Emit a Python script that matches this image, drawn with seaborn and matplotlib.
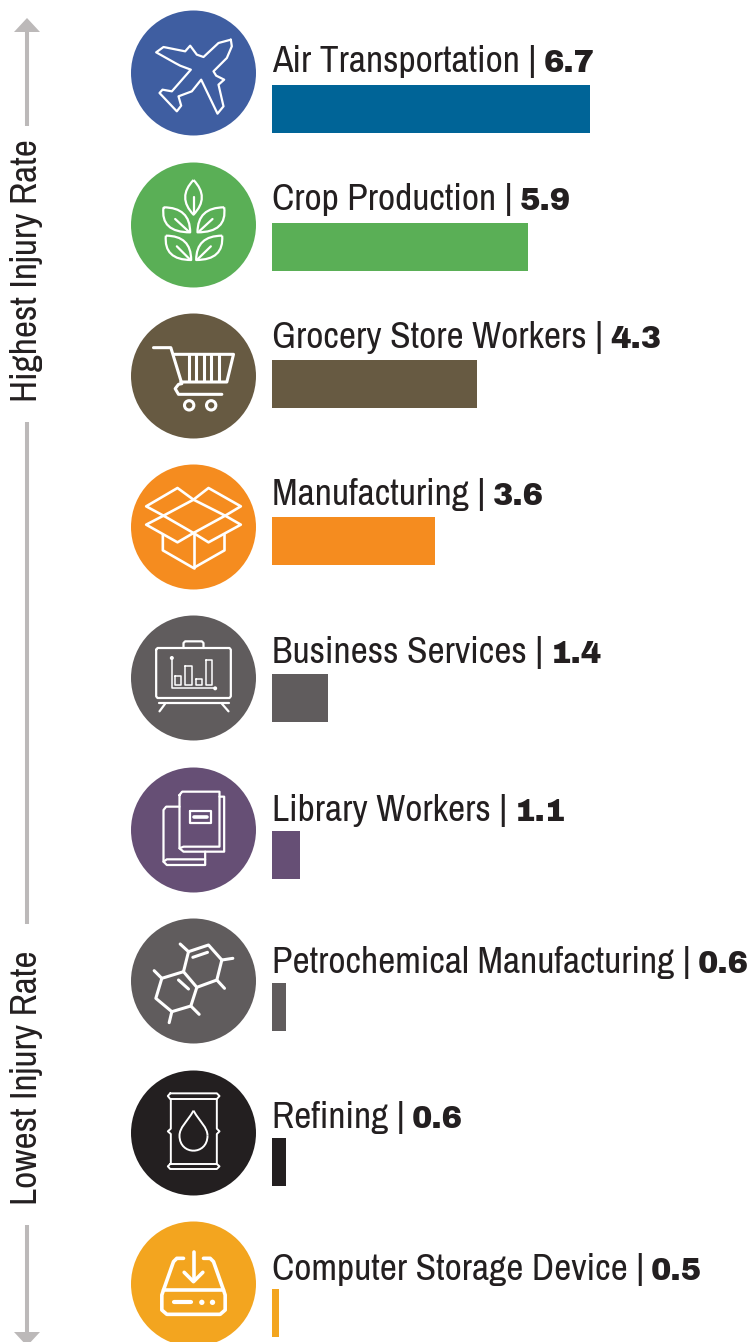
#!/usr/bin/env python
import numpy as np
import pandas as pd
import matplotlib
matplotlib.use("Agg")
import matplotlib.pyplot as plt
import seaborn as sns
from matplotlib import font_manager
from matplotlib.patches import Circle, PathPatch
from matplotlib.path import Path

categories = ["Air Transportation", "Crop Production", "Grocery Store Workers", "Manufacturing",
              "Business Services", "Library Workers", "Petrochemical Manufacturing", "Refining",
              "Computer Storage Device"]
rate_labels = ["6.7", "5.9", "4.3", "3.6", "1.4", "1.1", "0.6", "0.6", "0.5"]
# the printed bars are not proportional to the printed rates, so lengths are read off separately
bar_lengths = [6.7, 5.39, 4.32, 3.43, 1.18, 0.59, 0.29, 0.29, 0.15]
bar_colors = ["#006497", "#5aaf56", "#675a42", "#f58c1f", "#605c5d", "#664f75", "#605c5d", "#231f20", "#f3a51f"]
circle_colors = ["#3f5ea1", "#5aaf56", "#675a42", "#f58c1f", "#605c5d", "#664f75", "#605c5d", "#231f20", "#f3a51f"]

# layout, in picture pixels
bar_centers = [109, 247, 384, 541, 698, 855, 1007, 1162, 1313]
circle_centers = [73, 225, 376, 527, 678, 830, 981, 1133, 1284]
baselines = [72, 210, 348, 505, 663, 821, 973, 1128, 1280]
W, H = 751, 1342
BAR_LEFT = 272
BAR_SCALE = 318 / 6.7
CIRCLE_X = 193.5
TEXT = "#231f20"
GREY = "#bcb9b9"
LW = 1.6

# narrow face if there is one, otherwise a smaller Roboto so nothing runs off the edge
installed = {f.name for f in font_manager.fontManager.ttflist}
if "Archivo Narrow" in installed:
    LABEL_FONT, LABEL_SIZE = "Archivo Narrow", 27
else:
    LABEL_FONT, LABEL_SIZE = "Roboto", 22
VALUE_FONT = "Archivo Black" if "Archivo Black" in installed else "DejaVu Sans"
VALUE_SIZE = 22

fig = plt.figure(figsize=(W / 100, H / 100), dpi=100)
ax = fig.add_axes([0, 0, 1, 1])
ax.set_xlim(0, W)
ax.set_ylim(H, 0)
ax.axis("off")

# bars
df = pd.DataFrame({"category": categories, "length": bar_lengths, "pos": bar_centers})
ax_bar = fig.add_axes([BAR_LEFT / W, 0, (W - BAR_LEFT) / W, 1])
gaps = np.diff(sorted(bar_centers))
sns.barplot(data=df, x="length", y="pos", hue="category", palette=bar_colors, orient="y",
            native_scale=True, dodge=False, width=48 / gaps.min(), saturation=1,
            linewidth=0, legend=False, ax=ax_bar)
ax_bar.set_xlim(0, (W - BAR_LEFT) / BAR_SCALE)
ax_bar.set_ylim(H, 0)
ax_bar.axis("off")
ax_bar.patch.set_alpha(0)


def lines(cy, origin, polys, lw=LW):
    # polys come in 3x zoom coordinates relative to the icon origin
    ox, oy = origin
    for p in polys:
        p = np.array(p, dtype=float)
        ax.plot(CIRCLE_X + (p[:, 0] - ox) / 3, cy + (p[:, 1] - oy) / 3, color="white", lw=lw,
                solid_capstyle="round", solid_joinstyle="round", zorder=3)


def ring(cy, origin, x, y, r, lw=LW):
    ox, oy = origin
    ax.add_patch(Circle((CIRCLE_X + (x - ox) / 3, cy + (y - oy) / 3), r / 3, fill=False,
                        ec="white", lw=lw, zorder=3))


def dot(cy, origin, x, y, r):
    ox, oy = origin
    ax.add_patch(Circle((CIRCLE_X + (x - ox) / 3, cy + (y - oy) / 3), r / 3, fc="white", ec="none", zorder=3))


def curve(cy, origin, verts, codes, lw=LW):
    ox, oy = origin
    v = np.array(verts, dtype=float)
    v = np.column_stack([CIRCLE_X + (v[:, 0] - ox) / 3, cy + (v[:, 1] - oy) / 3])
    ax.add_patch(PathPatch(Path(v, codes), fill=False, ec="white", lw=lw, zorder=3, joinstyle="round"))


def leaf(cy, origin, a, b, c1, c2, lw=LW):
    codes = [Path.MOVETO, Path.CURVE3, Path.CURVE3, Path.CURVE3, Path.CURVE3]
    curve(cy, origin, [a, c1, b, c2, a], codes, lw)


def plane(cy):
    o = (580, 220)
    lines(cy, o, [[(692, 120), (695, 140), (680, 175), (640, 215), (648, 228), (672, 240), (655, 255),
                   (670, 320), (652, 342), (615, 265), (603, 240), (575, 275), (535, 290), (543, 318),
                   (530, 335), (478, 280), (487, 270), (515, 275), (572, 210), (540, 198), (525, 190),
                   (468, 158), (490, 142), (555, 155), (570, 138), (590, 165), (610, 172), (655, 130),
                   (692, 120)]])


def plant(cy):
    o = (580, 673)
    leaf(cy, o, (580, 538), (580, 642), (530, 590), (630, 590))
    leaf(cy, o, (490, 620), (570, 695), (480, 695), (570, 620))
    leaf(cy, o, (672, 620), (592, 695), (682, 695), (592, 620))
    leaf(cy, o, (497, 705), (573, 778), (490, 778), (573, 705))
    leaf(cy, o, (666, 705), (588, 778), (672, 778), (588, 705))
    lines(cy, o, [[(580, 590), (580, 640)], [(525, 655), (565, 692)], [(637, 655), (597, 692)],
                  [(530, 737), (568, 775)], [(632, 737), (593, 775)]])


def cart(cy):
    o = (220, 227)
    lines(cy, o, [[(100, 142), (152, 142), (185, 250), (175, 252), (165, 265), (175, 282), (305, 282)],
                  [(160, 162), (340, 162), (320, 245), (182, 245)],
                  [(205, 165), (205, 242)], [(228, 165), (228, 242)], [(250, 165), (250, 242)],
                  [(272, 165), (272, 242)], [(297, 165), (297, 242)]], lw=2.2)
    ring(cy, o, 207, 315, 14, lw=2.2)
    ring(cy, o, 273, 315, 14, lw=2.2)


def box(cy):
    o = (220, 682)
    lines(cy, o, [[(130, 648), (78, 620), (172, 565), (220, 600), (265, 565), (362, 620), (315, 648)],
                  [(220, 600), (130, 648), (220, 700), (315, 648), (220, 600)],
                  [(130, 648), (78, 675), (172, 728), (220, 700), (265, 728), (362, 675), (315, 648)],
                  [(128, 705), (128, 752), (220, 805), (313, 752), (313, 705)],
                  [(220, 700), (220, 805)]], lw=1.9)


def board(cy):
    o = (220, 235)
    lines(cy, o, [[(108, 150), (112, 145), (328, 145), (332, 150), (332, 290), (328, 295), (112, 295), (108, 290), (108, 150)],
                  [(190, 145), (190, 130), (195, 125), (245, 125), (250, 130), (250, 145)],
                  [(115, 310), (325, 310)], [(135, 312), (118, 335)], [(305, 312), (325, 335)]])
    lines(cy, o, [[(155, 175), (155, 265), (285, 265)],
                  [(165, 228), (183, 228), (183, 257), (165, 257), (165, 228)],
                  [(195, 198), (216, 198), (216, 257), (195, 257), (195, 198)],
                  [(226, 238), (246, 238), (246, 257), (226, 257), (226, 238)],
                  [(256, 182), (276, 182), (276, 257), (256, 257), (256, 182)]], lw=1.1)
    dot(cy, o, 155, 175, 6)
    dot(cy, o, 285, 266, 6)


def books(cy):
    o = (220, 690)
    lines(cy, o, [[(178, 585), (186, 575), (298, 575), (298, 740), (190, 740), (178, 745), (178, 585)],
                  [(178, 745), (190, 755), (312, 755), (312, 590), (298, 590)],
                  [(178, 620), (138, 620), (130, 630), (130, 785), (140, 795), (255, 795), (255, 755)],
                  [(130, 785), (140, 778), (255, 778)],
                  [(208, 632), (272, 632), (272, 668), (208, 668), (208, 632)]], lw=1.6)
    lines(cy, o, [[(220, 650), (260, 650)]], lw=2.6)


def molecule(cy):
    o = (580, 243)
    lines(cy, o, [[(565, 155), (625, 135), (665, 180), (650, 240), (590, 262), (550, 215), (565, 155)],
                  [(550, 215), (485, 235), (467, 295), (515, 335), (572, 318), (590, 262)],
                  [(565, 155), (540, 132)], [(665, 180), (698, 175)], [(650, 240), (673, 265)],
                  [(572, 318), (597, 343)], [(515, 335), (507, 368)], [(485, 235), (462, 212)],
                  [(578, 172), (622, 157)], [(535, 240), (565, 267)]], lw=2.2)


def barrel(cy):
    o = (580, 697)
    lines(cy, o, [[(510, 578), (650, 578), (658, 586), (650, 595), (510, 595), (503, 586), (510, 578)],
                  [(510, 790), (650, 790), (658, 797), (650, 805), (510, 805), (503, 797), (510, 790)],
                  [(512, 595), (512, 684), (503, 692), (512, 700), (512, 790)],
                  [(650, 595), (650, 684), (658, 692), (650, 700), (650, 790)]], lw=1.4)
    codes = [Path.MOVETO, Path.CURVE4, Path.CURVE4, Path.CURVE4, Path.CURVE4, Path.CURVE4, Path.CURVE4]
    curve(cy, o, [(580, 630), (560, 665), (538, 680), (538, 705), (538, 765), (622, 765), (622, 705)],
          codes, lw=1.4)
    curve(cy, o, [(622, 705), (622, 680), (600, 665), (580, 630), (580, 630), (580, 630), (580, 630)],
          codes, lw=1.4)


def storage(cy):
    o = (580, 1152)
    lines(cy, o, [[(550, 1075), (530, 1075), (520, 1085), (490, 1170), (670, 1170), (640, 1085), (630, 1075), (610, 1075)],
                  [(490, 1170), (485, 1185), (485, 1230), (500, 1243), (660, 1243), (675, 1230), (675, 1185), (670, 1170)],
                  [(580, 1055), (580, 1140)], [(552, 1117), (580, 1145), (608, 1117)]], lw=2.6)
    lines(cy, o, [[(520, 1207), (573, 1207)]], lw=3.0)
    dot(cy, o, 605, 1207, 8)
    dot(cy, o, 637, 1207, 8)


icon_funcs = [plane, plant, cart, box, board, books, molecule, barrel, storage]

for cy, col, draw in zip(circle_centers, circle_colors, icon_funcs):
    ax.add_patch(Circle((CIRCLE_X, cy), 62.5, fc=col, ec="none", zorder=2))
    draw(cy)

# labels: name | value, value placed right after the measured name
fig.canvas.draw()
renderer = fig.canvas.get_renderer()
for name, rate, base in zip(categories, rate_labels, baselines):
    t = ax.text(BAR_LEFT, base, f"{name} |", fontsize=LABEL_SIZE, color=TEXT, va="baseline", ha="left",
                family=LABEL_FONT)
    x_end = t.get_window_extent(renderer).x1
    ax.text(x_end + 7, base, rate, fontsize=VALUE_SIZE, color=TEXT, va="baseline", ha="left",
            family=VALUE_FONT)

# left hand arrow
ax.plot([27, 27], [32, 126], color=GREY, lw=2.9, solid_capstyle="butt")
ax.plot([27, 27], [422, 924], color=GREY, lw=2.9, solid_capstyle="butt")
ax.plot([27, 27], [1225, 1333], color=GREY, lw=2.9, solid_capstyle="butt")
ax.fill([14, 27, 40], [32, 18, 32], color=GREY, lw=0)
ax.fill([14, 27, 40], [1332, 1346, 1332], color=GREY, lw=0)
ax.text(27, 271, "Highest Injury Rate", rotation=90, fontsize=LABEL_SIZE, color=TEXT, ha="center", va="center",
        family=LABEL_FONT)
ax.text(27, 1078, "Lowest Injury Rate", rotation=90, fontsize=LABEL_SIZE, color=TEXT, ha="center", va="center",
        family=LABEL_FONT)

fig.savefig("out.png", dpi=100)
